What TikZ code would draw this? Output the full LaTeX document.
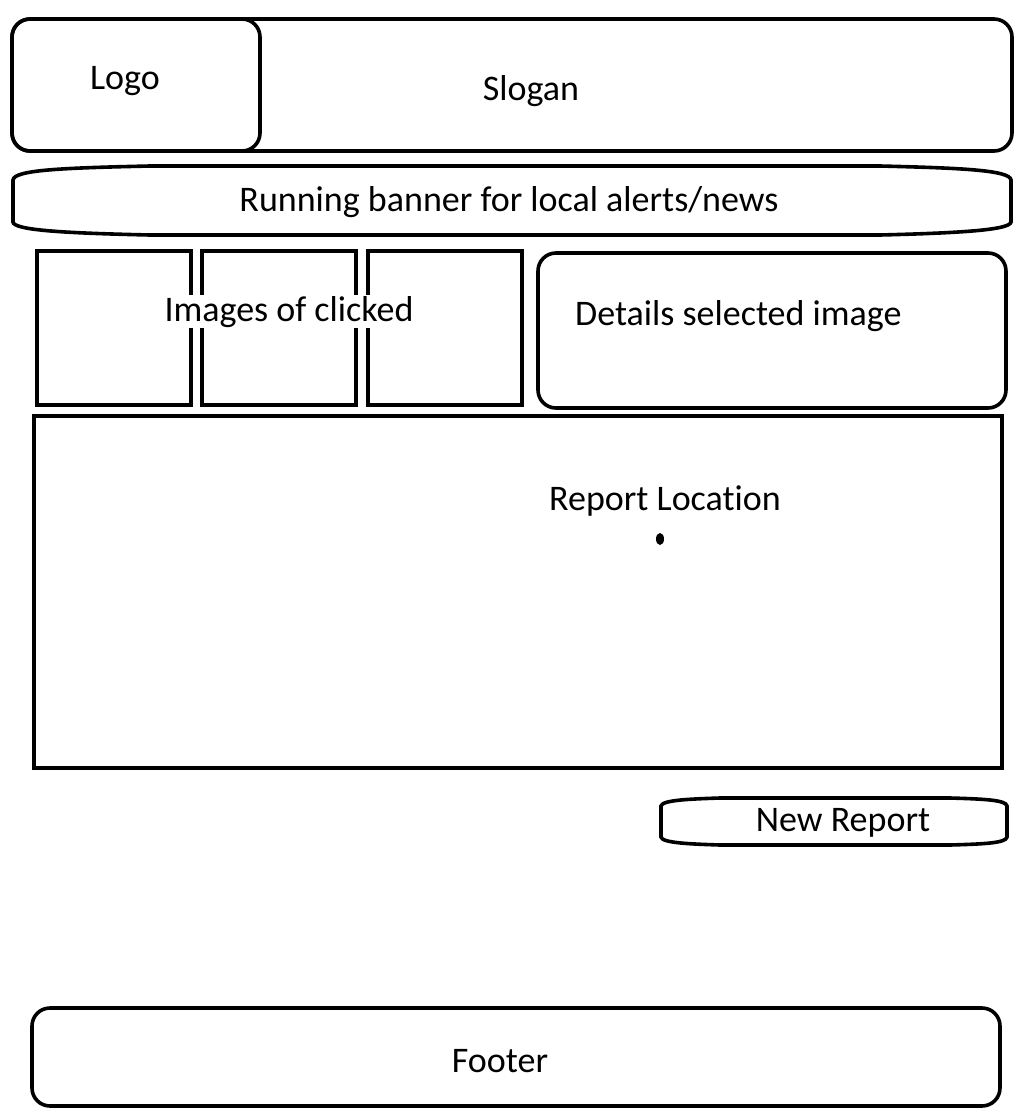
\documentclass[tikz,border=0pt]{standalone}
\usepackage{fontspec}
\setmainfont[Ligatures=NoCommon]{Carlito}
\begin{document}
\begin{tikzpicture}[x=1pt,y=-1pt,
  frame/.style={draw=black,line width=3.6pt},
  roundframe/.style={frame,rounded corners=18pt},
  label/.style={inner sep=0pt,anchor=base,font=\fontsize{36}{43}\selectfont}]
\useasboundingbox[fill=white] (0,0) rectangle (1024,1117);

% header with logo
\draw[roundframe] (12,19) rectangle (1012,151);
\draw[roundframe] (12,19) rectangle (260,151);
\node[label] (logo) at (125,89) {Logo};
\node[label] (slogan) at (531,100) {Slogan};

% running banner
\draw[frame] (13,180) .. controls (14,170) and (60,168) .. (150,166)
  -- (880,166) .. controls (960,168) and (1010,170) .. (1011,180)
  -- (1011,222) .. controls (1010,230) and (960,233) .. (880,235)
  -- (150,235) .. controls (60,233) and (14,230) .. (13,222) -- cycle;
\node[label] (banner) at (509,211) {Running banner for local alerts/news};

% thumbnails
\draw[frame] (37,251) rectangle (191,405);
\draw[frame] (202,251) rectangle (356,405);
\draw[frame] (368,251) rectangle (522,405);
\node[label,fill=white,inner sep=1pt] (thumbs) at (289,321) {Images of clicked};

% detail panel
\draw[roundframe] (538,253) rectangle (1006,408);
\node[label,anchor=base west] (details) at (575,325) {Details selected image};

% map area
\draw[frame] (34,416) rectangle (1002,768);
\node[label] (report) at (665,510) {Report Location};
\fill (660,539) ellipse (4pt and 6pt);

% new report button
\draw[frame] (661,806) .. controls (662,800) and (690,799) .. (720,798)
  -- (950,798) .. controls (985,799) and (1006,800) .. (1007,806)
  -- (1007,837) .. controls (1006,843) and (985,844) .. (950,845)
  -- (720,845) .. controls (690,844) and (662,843) .. (661,837) -- cycle;
\node[label] (newreport) at (843,831) {New Report};

% footer
\draw[roundframe] (32,1008) rectangle (1000,1106);
\node[label] (footer) at (500,1072) {Footer};
\end{tikzpicture}
\end{document}
